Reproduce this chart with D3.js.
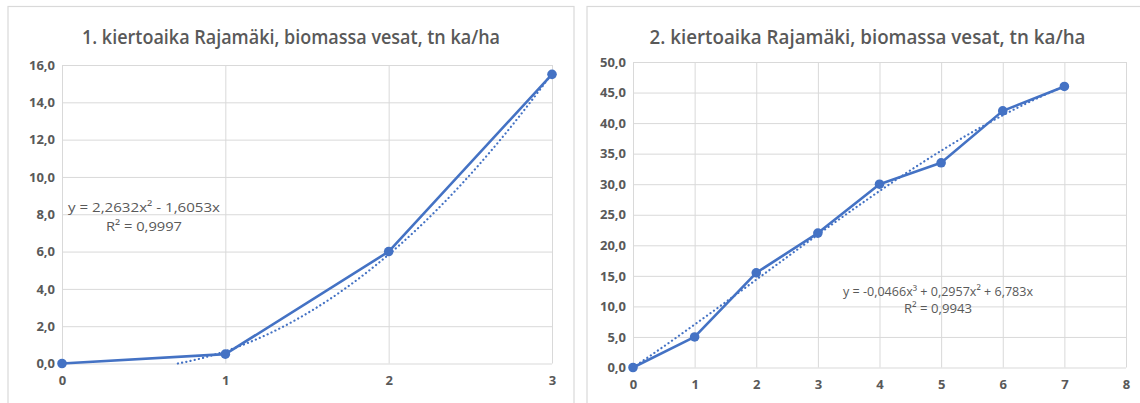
<!DOCTYPE html>
<html><head><meta charset="utf-8">
<script src="https://cdn.jsdelivr.net/npm/d3@7"></script>
<style>body{margin:0;background:#fff}svg{display:block}</style>
</head><body>
<svg id="c" width="1140" height="403"></svg>
<script>
// ---- data ----
const title1 = "1. kiertoaika Rajamäki, biomassa vesat, tn ka/ha";
const x1 = [0, 1, 2, 3];
const y1 = [0, 0.5, 6.0, 15.5];
const yTicks1 = [0, 2, 4, 6, 8, 10, 12, 14, 16];
const xTicks1 = [0, 1, 2, 3];
const coef1 = [0, -1.6053, 2.2632];           // c0 + c1 x + c2 x^2
const eq1 = ["y = 2,2632x\u00B2 - 1,6053x", "R\u00B2 = 0,9997"];

const title2 = "2. kiertoaika Rajamäki, biomassa vesat, tn ka/ha";
const x2 = [0, 1, 2, 3, 4, 5, 6, 7];
const y2 = [0, 5.0, 15.5, 22.0, 30.0, 33.5, 42.0, 46.0];
const yTicks2 = [0, 5, 10, 15, 20, 25, 30, 35, 40, 45, 50];
const xTicks2 = [0, 1, 2, 3, 4, 5, 6, 7, 8];
const coef2 = [0, 6.783, 0.2957, -0.0466];
const eq2 = ["y = -0,0466x\u00B3 + 0,2957x\u00B2 + 6,783x", "R\u00B2 = 0,9943"];

const svg = d3.select("#c");
const blue = "#4472C4", grid = "#d9d9d9", txt = "#595959";
const fmt = d => d.toFixed(1).replace(".", ",");

function chart(cfg) {
  const g = svg.append("g");
  g.append("rect").attr("x", cfg.frame[0]).attr("y", 6.5)
    .attr("width", cfg.frame[1] - cfg.frame[0]).attr("height", 420)
    .attr("fill", "#fff").attr("stroke", grid).attr("stroke-width", 1.2);
  g.append("text").attr("x", (cfg.frame[0] + cfg.frame[1]) / 2).attr("y", 44)
    .attr("text-anchor", "middle").attr("fill", txt)
    .attr("font-family", "Open Sans").attr("font-weight", 600).attr("font-size", 19)
    .attr("textLength", cfg.titleW).attr("lengthAdjust", "spacingAndGlyphs")
    .text(cfg.title);

  const xs = d3.scaleLinear().domain(cfg.xDom).range(cfg.xr);
  const ys = d3.scaleLinear().domain(cfg.yDom).range(cfg.yr);

  // horizontal grid + y labels
  const ya = d3.axisLeft(ys).tickValues(cfg.yTicks).tickSize(-(cfg.xr[1] - cfg.xr[0])).tickFormat(fmt).tickPadding(7);
  const gy = g.append("g").attr("transform", `translate(${cfg.xr[0]},0)`).call(ya);
  gy.select(".domain").remove();
  gy.selectAll("line").attr("stroke", grid).attr("stroke-width", 1);
  gy.selectAll("text").attr("fill", txt).attr("font-family", "Open Sans")
    .attr("font-weight", 700).attr("font-size", 13);

  // vertical grid + x labels
  const xa = d3.axisBottom(xs).tickValues(cfg.xTicks).tickSize(-(cfg.yr[0] - cfg.yr[1])).tickFormat(d3.format("d")).tickPadding(12);
  const gx = g.append("g").attr("transform", `translate(0,${cfg.yr[0]})`).call(xa);
  gx.select(".domain").remove();
  gx.selectAll("line").attr("stroke", grid).attr("stroke-width", 1);
  gx.selectAll("text").attr("fill", txt).attr("font-family", "Open Sans")
    .attr("font-weight", 700).attr("font-size", 13);

  // trendline
  const poly = x => cfg.coef.reduce((s, c, i) => s + c * Math.pow(x, i), 0);
  const tx = d3.range(cfg.tr[0], cfg.tr[1] + 1e-9, (cfg.tr[1] - cfg.tr[0]) / 200);
  g.append("path").datum(tx)
    .attr("d", d3.line().x(d => xs(d)).y(d => ys(poly(d))))
    .attr("fill", "none").attr("stroke", blue).attr("stroke-width", 2.2)
    .attr("stroke-dasharray", "0.1,4.2").attr("stroke-linecap", "round");

  // data line
  const pts = cfg.x.map((d, i) => [d, cfg.y[i]]);
  g.append("path").datum(pts)
    .attr("d", d3.line().x(d => xs(d[0])).y(d => ys(d[1])))
    .attr("fill", "none").attr("stroke", blue).attr("stroke-width", 2.6)
    .attr("stroke-linejoin", "round");
  g.selectAll("circle.p").data(pts).join("circle")
    .attr("cx", d => xs(d[0])).attr("cy", d => ys(d[1])).attr("r", 4.8)
    .attr("fill", blue);

  // equation
  cfg.eq.forEach((t, i) => {
    g.append("text").attr("x", cfg.eqPos[0]).attr("y", cfg.eqPos[1] + i * cfg.eqGap)
      .attr("text-anchor", "middle").attr("fill", txt)
      .attr("font-family", "Open Sans").attr("font-size", 13.5)
      .attr("textLength", cfg.eqW[i]).attr("lengthAdjust", "spacingAndGlyphs")
      .text(t);
  });
}

chart({frame: [8, 574], title: title1, titleW: 418,
  x: x1, y: y1, xDom: [0, 3], yDom: [0, 16], xr: [62, 552], yr: [363.5, 65],
  yTicks: yTicks1, xTicks: xTicks1, coef: coef1, tr: [0.7093, 3], eq: eq1,
  eqPos: [144, 212], eqGap: 19, eqW: [152, 76]});

chart({frame: [587, 1148], title: title2, titleW: 436,
  x: x2, y: y2, xDom: [0, 8], yDom: [0, 50], xr: [633, 1126], yr: [367.5, 62],
  yTicks: yTicks2, xTicks: xTicks2, coef: coef2, tr: [0, 7], eq: eq2,
  eqPos: [938, 296], eqGap: 17, eqW: [190, 68]});
</script>
</body></html>
